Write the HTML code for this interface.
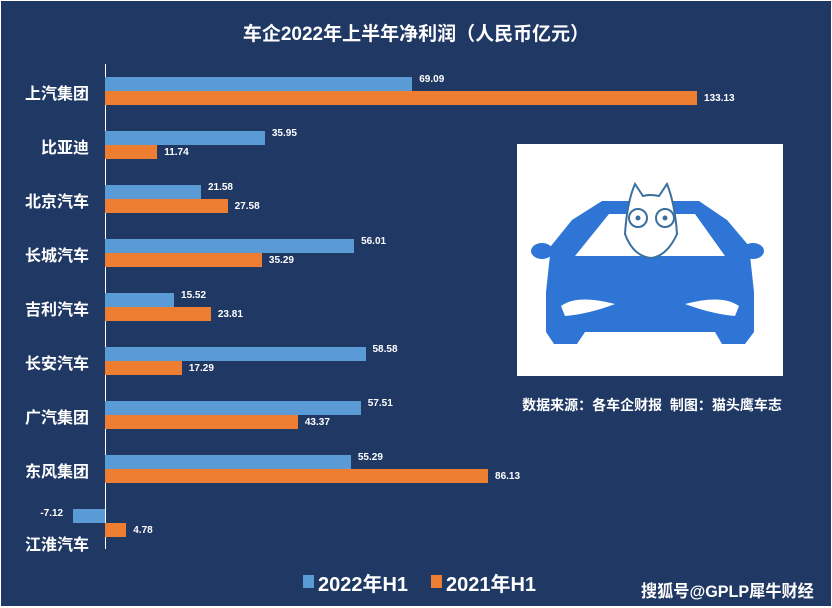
<!DOCTYPE html>
<html><head><meta charset="utf-8"><style>
body{margin:0;width:832px;height:608px;background:#fff;overflow:hidden}
#c{position:absolute;left:1px;top:1px;width:830px;height:605px;background:#203864;font-family:"Liberation Sans","Noto Sans CJK SC",sans-serif;color:#fff}
.t{position:absolute;white-space:nowrap}
.cat{position:absolute;right:742px;font-size:16px;font-weight:bold;white-space:nowrap}
.b{position:absolute;height:14px}
.bl{background:#5b9bd5}.or{background:#ed7d31}
.v{position:absolute;font-size:10px;font-weight:bold}
</style></head><body><div id="c">
<div class="t" style="left:0;width:830px;text-align:center;top:18px;font-size:19px;font-weight:bold">车企2022年上半年净利润（人民币亿元）</div>
<div style="position:absolute;left:104px;top:63px;width:1px;height:485px;background:#fff"></div>
<div id="bars"></div>
<div style="position:absolute;left:516px;top:143px;width:266px;height:232px;background:#fff">
<svg width="266" height="232" viewBox="0 0 266 232">
<g fill="#2e75d6">
<ellipse cx="25" cy="107" rx="11" ry="8"/><ellipse cx="236" cy="107" rx="11" ry="8"/>
<path d="M55 76 L85 57 L182 57 L210 76 L232 102 L237 148 L237 188 L228 200 L205 200 L198 188 L68 188 L60 200 L37 200 L29 188 L29 148 L34 102 Z"/>
</g>
<path d="M58 112 L92 70 L178 70 L208 112 Z" fill="#fff"/>
<path d="M44 162 Q60 150 98 160 Q72 170 48 172 Z M222 162 Q205 150 168 160 Q195 170 218 172 Z" fill="#fff"/>
<g fill="#fff" stroke="#3b6f9e" stroke-width="2">
<path d="M108 90 Q110 58 118 40 L126 52 Q133 50 142 52 L150 40 Q158 60 160 90 Q150 112 134 114 Q116 112 108 90 Z"/>
<circle cx="121" cy="74" r="9"/><circle cx="148" cy="74" r="9"/>
</g>
<circle cx="121" cy="74" r="2.5" fill="#3b6f9e"/><circle cx="148" cy="74" r="2.5" fill="#3b6f9e"/>
</svg></div>
<div class="t" style="left:516px;top:394px;width:270px;text-align:center;font-size:14px;font-weight:bold">数据来源：各车企财报&nbsp; 制图：猫头鹰车志</div>
<div style="position:absolute;left:302px;top:574px;width:11px;height:13px;background:#5b9bd5"></div>
<div class="t" style="left:317px;top:567px;font-size:20px;font-weight:bold">2022年H1</div>
<div style="position:absolute;left:430px;top:574px;width:11px;height:13px;background:#ed7d31"></div>
<div class="t" style="left:445px;top:567px;font-size:20px;font-weight:bold">2021年H1</div>
<div class="t" style="left:640px;top:576px;font-size:17px;font-weight:bold;transform:scaleX(0.95);transform-origin:0 0">搜狐号@GPLP犀牛财经</div>
</div>
<script>
var d=[["上汽集团",69.09,133.13],["比亚迪",35.95,11.74],["北京汽车",21.58,27.58],["长城汽车",56.01,35.29],["吉利汽车",15.52,23.81],["长安汽车",58.58,17.29],["广汽集团",57.51,43.37],["东风集团",55.29,86.13],["江淮汽车",-7.12,4.78]];
var s=4.447,x0=104,h="";
d.forEach(function(r,i){var y=76+i*54;
var w1=Math.abs(r[1])*s,l1=r[1]<0?x0-w1:x0;
h+='<div class="b bl" style="left:'+l1+'px;top:'+y+'px;width:'+w1+'px"></div>';
h+='<div class="b or" style="left:'+x0+'px;top:'+(y+14)+'px;width:'+(r[2]*s)+'px"></div>';
if(r[1]<0)h+='<div class="v" style="left:'+(l1-33)+'px;top:'+(y-1)+'px">'+r[1].toFixed(2)+'</div>';
else h+='<div class="v" style="left:'+(x0+w1+7)+'px;top:'+(y-3)+'px">'+r[1].toFixed(2)+'</div>';
h+='<div class="v" style="left:'+(x0+r[2]*s+7)+'px;top:'+(y+16)+'px">'+r[2].toFixed(2)+'</div>';
var ly=i==8?y+22:y+3;
h+='<div class="cat" style="top:'+ly+'px">'+r[0]+'</div>';});
document.getElementById('bars').innerHTML=h;
</script>
</body></html>
